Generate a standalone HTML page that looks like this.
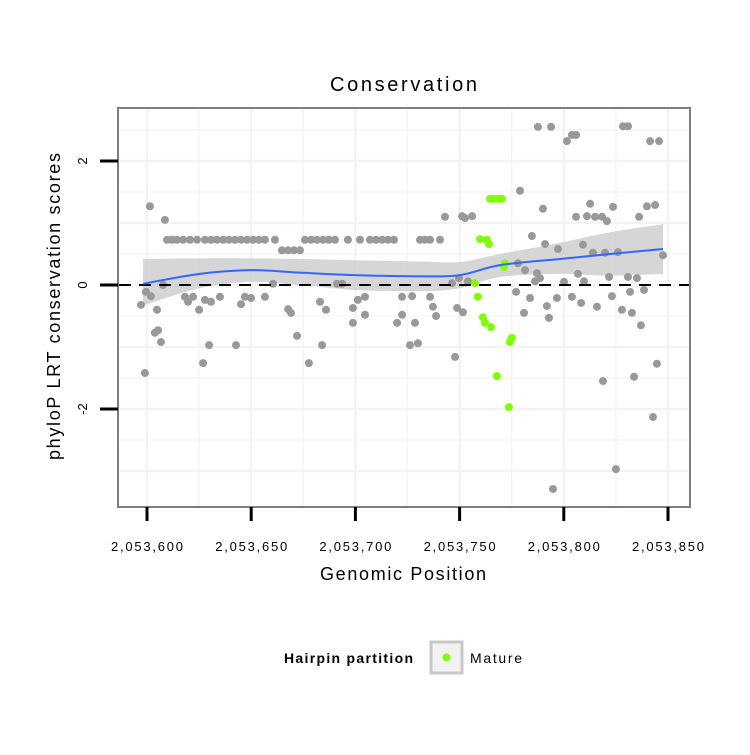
<!DOCTYPE html>
<html><head><meta charset="utf-8"><style>
body{margin:0;background:#fff;}
svg text{font-family:"Liberation Sans",sans-serif;}
</style></head><body>
<svg id="chart" width="750" height="750" xmlns="http://www.w3.org/2000/svg">
<rect width="750" height="750" fill="#fff"/>
<text x="330" y="91" font-size="20" textLength="147" lengthAdjust="spacing">Conservation</text>
<g id="grid"></g>
<g id="band"></g>
<g id="pts"></g>
<g id="over"></g>
<rect x="118" y="108" width="572" height="399" fill="none" stroke="#7f7f7f" stroke-width="2"/>
<g id="axes"></g>
<text x="320" y="580" font-size="18" textLength="166" lengthAdjust="spacing">Genomic Position</text>
<text transform="translate(60,460) rotate(-90)" font-size="18" textLength="307" lengthAdjust="spacing">phyloP LRT conservation scores</text>
<g>
<text x="284" y="663" font-size="14" font-weight="bold" textLength="129" lengthAdjust="spacing">Hairpin partition</text>
<rect x="431" y="642" width="31" height="31" fill="#f2f2f2" stroke="#c8c8c8" stroke-width="3"/>
<circle cx="446.5" cy="657.5" r="4" fill="#7fff00"/>
<text x="470" y="663" font-size="14" textLength="52" lengthAdjust="spacing">Mature</text>
</g>
</svg>
<script>
const BASE = 2053600;
const xTicks = [0, 50, 100, 150, 200, 250];
const xTickLabels = ["2,053,600","2,053,650","2,053,700","2,053,750","2,053,800","2,053,850"];
const yTicks = [2, 0, -2];
const yTickLabels = ["2","0","-2"];
const grayX = [1.4,8.6,-0.5,1.9,-2.9,4.8,7.7,18.2,19.7,22.1,25.0,27.8,30.7,35.0,47.0,45.1,49.9,56.6,60.5,67.7,69.1,5.3,3.8,6.7,29.8,42.7,72.0,26.9,77.7,-1.0,83.0,85.9,98.8,101.2,104.6,104.6,98.8,122.4,127.2,122.4,120.0,128.6,135.8,137.2,138.7,148.8,151.6,84.0,126.2,130.0,147.8,91.2,93.6,143.0,151.2,156.0,146.4,149.7,154.0,152.6,
9.6,12.0,14.4,17.3,20.6,24.0,27.8,30.7,33.6,36.5,39.3,42.2,45.1,48.0,50.9,53.7,56.6,61.4,75.8,78.7,81.6,84.5,87.3,90.2,96.4,102.2,107.0,109.9,112.8,115.6,118.5,131.0,133.4,135.8,140.6,
64.8,67.7,70.5,73.4,
187.6,193.9,228.4,230.8,203.9,205.9,201.5,241.4,245.7,179.0,190.0,212.6,223.6,239.9,243.8,205.9,211.1,215.0,218.3,220.7,236.1,184.7,191.0,197.2,209.2,214.0,219.8,226.0,247.6,178.0,181.4,187.1,188.6,206.8,186.2,200.1,209.7,221.7,230.8,235.1,177.1,183.8,196.7,203.9,208.3,191.9,215.9,223.1,231.8,238.5,180.9,192.9,227.9,232.7,237.0,218.8,233.7,244.7,242.8,225.0,194.8];
const grayY = [1.27,1.05,-0.11,-0.18,-0.32,-0.40,0,-0.19,-0.27,-0.19,-0.40,-0.24,-0.27,-0.19,-0.19,-0.31,-0.21,-0.19,0.02,-0.39,-0.45,-0.73,-0.77,-0.92,-0.97,-0.97,-0.82,-1.26,-1.26,-1.42,-0.27,-0.40,-0.37,-0.24,-0.19,-0.48,-0.61,-0.19,-0.18,-0.48,-0.61,-0.61,-0.19,-0.35,-0.50,-0.37,-0.44,-0.97,-0.97,-0.94,-1.16,0.02,0.02,1.10,1.11,1.11,0.03,0.11,0.06,1.08,
0.73,0.73,0.73,0.73,0.73,0.73,0.73,0.73,0.73,0.73,0.73,0.73,0.73,0.73,0.73,0.73,0.73,0.73,0.73,0.73,0.73,0.73,0.73,0.73,0.73,0.73,0.73,0.73,0.73,0.73,0.73,0.73,0.73,0.73,0.73,
0.56,0.56,0.56,0.56,
2.55,2.55,2.56,2.56,2.42,2.42,2.32,2.32,2.32,1.52,1.23,1.31,1.26,1.27,1.29,1.10,1.11,1.10,1.10,1.03,1.10,0.79,0.66,0.58,0.65,0.52,0.52,0.53,0.48,0.35,0.24,0.19,0.11,0.18,0.06,0.05,0.06,0.13,0.13,0.11,-0.11,-0.21,-0.21,-0.19,-0.29,-0.34,-0.35,-0.18,-0.11,-0.08,-0.45,-0.53,-0.40,-0.45,-0.65,-1.55,-1.48,-1.27,-2.13,-2.97,-3.29];
const greenX = [164.6,166.5,168.4,170.3,159.8,163.1,164.1,171.8,171.3,157.4,158.8,161.2,162.2,165.1,175.1,174.2,167.9,173.7];
const greenY = [1.39,1.39,1.39,1.39,0.74,0.73,0.66,0.35,0.29,0.03,-0.19,-0.52,-0.61,-0.68,-0.85,-0.92,-1.47,-1.97];
const smoothX = [-1.9,25.4,49.4,73.4,99.8,131,150.2,169.4,198.2,222.2,247.6];
const smoothY = [0.02,0.18,0.24,0.20,0.16,0.14,0.16,0.32,0.42,0.50,0.58];
const smoothLo = [-0.33,-0.05,0.05,0.0,-0.08,-0.10,-0.05,0.13,0.18,0.15,0.18];
const smoothHi = [0.42,0.43,0.43,0.42,0.40,0.38,0.37,0.50,0.68,0.85,0.98];

const NS = "http://www.w3.org/2000/svg";
const sx = v => 147 + v * 2.084;
const sy = v => 285 - v * 62;
function mk(tag, attrs, parent){const e=document.createElementNS(NS,tag);for(const k in attrs)e.setAttribute(k,attrs[k]);parent.appendChild(e);return e;}
function curve(P){let d='';for(let i=0;i<P.length-1;i++){const p0=P[Math.max(i-1,0)],p1=P[i],p2=P[i+1],p3=P[Math.min(i+2,P.length-1)];
if(i===0)d+='M'+p1[0]+','+p1[1];
const c1=[p1[0]+(p2[0]-p0[0])/6,p1[1]+(p2[1]-p0[1])/6],c2=[p2[0]-(p3[0]-p1[0])/6,p2[1]-(p3[1]-p1[1])/6];
d+=' C'+c1+' '+c2+' '+p2;}return d;}
const grid=document.getElementById('grid'), band=document.getElementById('band'), pts=document.getElementById('pts'), over=document.getElementById('over'), axes=document.getElementById('axes');
mk('rect',{x:118,y:108,width:572,height:399,fill:'#fff'},grid);
for(let v=-3; v<=2.5; v+=0.5){const l=mk('line',{x1:118,x2:690,y1:sy(v),y2:sy(v),stroke:'#f3f3f3','stroke-width':Number.isInteger(v)?2.5:1.2},grid);

}
for(let v=-25; v<=265; v+=25){if(sx(v)<118||sx(v)>690)continue;const l=mk('line',{x1:sx(v),x2:sx(v),y1:108,y2:507,stroke:'#f3f3f3','stroke-width':v%50===0?2.5:1.2},grid);

}
const hiP=smoothX.map((x,i)=>[sx(x),sy(smoothHi[i])]);
const loP=smoothX.map((x,i)=>[sx(x),sy(smoothLo[i])]).reverse();
let d=curve(hiP)+' L'+loP[0]+curve(loP).replace(/^M[^ ]+/,'')+'Z';
const bp=mk('path',{d:d,fill:'#cccccc','fill-opacity':0.8},band);


grayX.forEach((x,i)=>{const c=mk('circle',{cx:sx(x),cy:sy(grayY[i]),r:4,fill:'#999999'},pts);

});
greenX.forEach((x,i)=>{const c=mk('circle',{cx:sx(x),cy:sy(greenY[i]),r:4,fill:'#7fff00'},pts);

});
const zl=mk('line',{x1:119,x2:689,y1:sy(0),y2:sy(0),stroke:'#000','stroke-width':2,'stroke-dasharray':'12 8'},over);


const sl=mk('path',{d:curve(smoothX.map((x,i)=>[sx(x),sy(smoothY[i])])),fill:'none',stroke:'#3366ff','stroke-width':2},over);


xTicks.forEach((v,i)=>{const t=mk('line',{x1:sx(v),x2:sx(v),y1:507,y2:521,stroke:'#000','stroke-width':3},axes);


const tx=mk('text',{x:sx(v)-36,y:551,'font-size':13,textLength:72,lengthAdjust:'spacing'},axes);tx.textContent=xTickLabels[i];

});
yTicks.forEach((v,i)=>{const t=mk('line',{x1:100,x2:118,y1:sy(v),y2:sy(v),stroke:'#000','stroke-width':3},axes);


const tx=mk('text',{transform:`translate(87,${sy(v)}) rotate(-90)`,'font-size':13,'text-anchor':'middle'},axes);tx.textContent=yTickLabels[i];

});
</script>
</body></html>
